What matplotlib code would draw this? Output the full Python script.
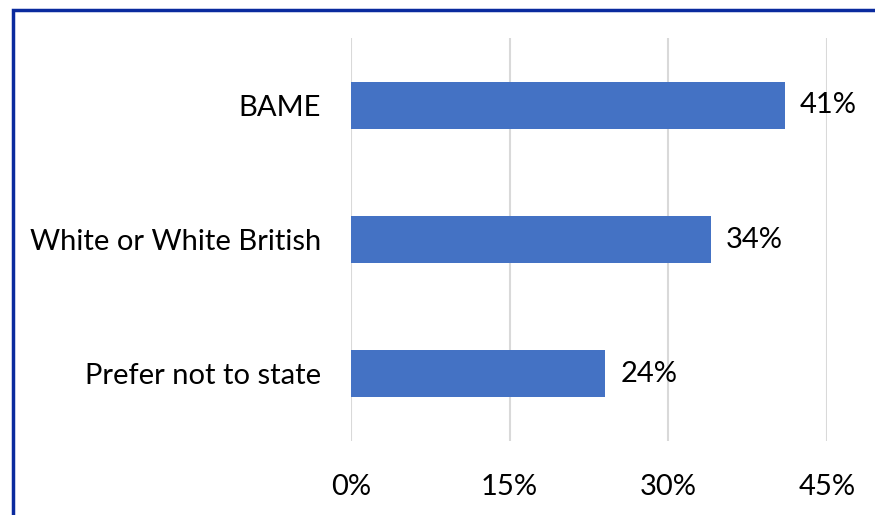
import matplotlib
matplotlib.use("Agg")
import matplotlib.pyplot as plt
from matplotlib.patches import Rectangle

categories = ["BAME", "White or White British", "Prefer not to state"]
values = [41, 34, 24]
xticks = [0, 15, 30, 45]
xtick_labels = ["0%", "15%", "30%", "45%"]

plt.rcParams['font.family'] = ['Lato', 'DejaVu Sans']
FS = 21

W, H = 875, 515
fig = plt.figure(figsize=(W/100, H/100), dpi=100)
ax = fig.add_axes([351/W, 1-441/H, (827-351)/W, (441-38)/H])

y = list(range(len(categories)))
ax.barh(y, values, height=0.35, color="#4472C4", zorder=3)
ax.set_ylim(len(categories)-0.5, -0.5)
ax.set_xlim(0, 45)
ax.set_xticks(xticks)
ax.set_xticklabels(xtick_labels, fontsize=FS, color="#000000")
ax.set_yticks(y)
ax.set_yticklabels(categories, fontsize=FS, color="#000000")
ax.tick_params(axis='both', length=0)
ax.tick_params(axis='x', pad=24)
ax.tick_params(axis='y', pad=21.5)
ax.grid(axis='x', color="#D9D9D9", linewidth=1.5, zorder=0)
for s in ax.spines.values():
    s.set_visible(False)

for yi, v in zip(y, values):
    ax.annotate(f"{v}%", xy=(v, yi), xytext=(11, 0), textcoords="offset points",
                va="center", ha="left", fontsize=FS, color="#000000")

# outer border (extends past right and bottom edge)
fig.patches.append(Rectangle((12.5/W, -0.05), 1.0, 1 - 9.5/H + 0.05,
                             transform=fig.transFigure, fill=False,
                             edgecolor="#0A2A9E", linewidth=2.5))

fig.savefig("out.png", dpi=100)
